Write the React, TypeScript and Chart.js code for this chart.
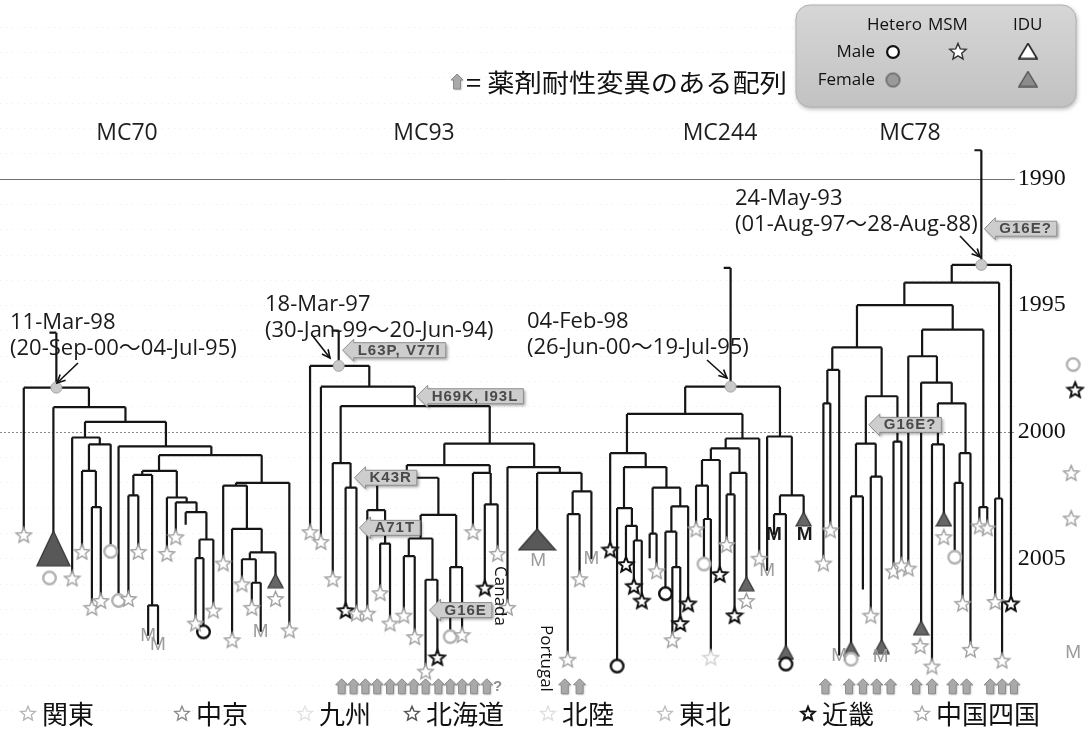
import React, { useEffect, useRef } from 'react';
import { Chart, registerables } from 'chart.js';

Chart.register(...registerables);

// ---------------- data ----------------
// tree node: [x position, year, parent index, marker code]
// marker codes: s gray star, l light star, k black star, o black circle, g gray circle,
// t dark triangle, T / W large collapsed triangles, M gray "M", N black "M"
const yearTicks = [1990, 1995, 2000, 2005];
const yearMin = 1983.22;
const yearMax = 2011.59;
const solidGridYear = 1990;
const dottedGridYear = 2000;

const cladeNames = ['MC70', 'MC93', 'MC244', 'MC78'];
const nodeDates = ['11-Mar-98', '18-Mar-97', '04-Feb-98', '24-May-93'];
const nodeRanges = ['(20-Sep-00～04-Jul-95)', '(30-Jan-99～20-Jun-94)', '(26-Jun-00～19-Jul-95)', '(01-Aug-97～28-Aug-88)'];

const mc70Tree = [
  [50, 1996.09, -1, ''], [50, 1998.26, 0, ''], [17, 2004.07, 1, 's'], [83, 1999.03, 1, ''],
  [47, 2004.61, 3, 'T'], [120, 1999.61, 3, ''], [79, 2000.23, 5, ''], [66, 2005.78, 6, 's'],
  [94, 2000.50, 6, ''], [83, 2001.55, 8, ''], [76, 2004.73, 9, 's'], [90, 2002.98, 9, ''],
  [86, 2006.94, 11, 's'], [95, 2006.67, 11, 's'], [105, 2004.73, 8, 'g'], [161, 2000.58, 5, ''],
  [113, 2006.67, 15, 'g'], [207, 2000.93, 15, ''], [154, 2001.55, 17, ''], [137, 2001.71, 18, ''],
  [128, 2002.52, 19, ''], [123, 2006.59, 20, 's'], [133, 2004.73, 20, 's'], [147, 2006.86, 19, ''],
  [143, 2008.06, 23, 'M'], [153, 2008.41, 23, 'M'], [172, 2002.60, 18, ''], [162, 2004.81, 26, 's'],
  [182, 2002.79, 26, ''], [171, 2004.15, 28, 's'], [192, 2003.18, 28, ''], [181, 2003.68, 30, ''],
  [202, 2004.26, 30, ''], [195, 2005.00, 32, ''], [191, 2007.56, 33, 's'], [199, 2007.91, 33, 'o'],
  [209, 2007.05, 32, 's'], [258, 2002.02, 17, ''], [232, 2002.13, 37, ''], [219, 2005.19, 38, 's'],
  [243, 2003.84, 38, ''], [228, 2008.22, 40, 's'], [258, 2004.77, 40, ''], [246, 2005.04, 42, ''],
  [238, 2006.01, 43, 's'], [252, 2005.97, 43, ''], [248, 2006.94, 45, 's'], [257, 2007.91, 45, 'M'],
  [272, 2005.89, 42, 't'], [286, 2007.83, 37, 's'],
];

const mc93Tree = [
  [336, 1996.01, -1, ''], [336, 1997.40, 0, ''], [307, 2003.95, 1, 's'], [367, 1998.22, 1, ''],
  [318, 2004.34, 3, 's'], [413, 1998.99, 3, ''], [338, 2001.24, 5, ''], [330, 2005.81, 6, 's'],
  [348, 2002.21, 6, ''], [343, 2007.05, 8, 'k'], [354, 2007.17, 8, 's'], [489, 2000.47, 5, ''],
  [443, 2001.32, 11, ''], [405, 2001.82, 12, ''], [375, 2003.10, 13, ''], [365, 2007.17, 14, 's'],
  [383, 2004.42, 14, ''], [378, 2006.36, 16, 's'], [388, 2007.56, 16, 's'], [437, 2003.29, 13, ''],
  [419, 2004.22, 19, ''], [407, 2004.92, 20, ''], [402, 2007.25, 21, 's'], [413, 2008.10, 21, 's'],
  [431, 2005.85, 20, ''], [424, 2009.46, 24, 's'], [436, 2008.91, 24, 'k'], [455, 2005.35, 19, ''],
  [449, 2008.10, 27, 'g'], [461, 2008.02, 27, 's'], [489, 2001.63, 12, ''], [472, 2003.95, 30, 's'],
  [490, 2002.87, 30, ''], [484, 2006.16, 32, 'k'], [497, 2004.81, 32, 's'], [534, 2001.40, 11, ''],
  [507, 2006.94, 35, 's'], [560, 2001.63, 35, ''], [537, 2004.26, 37, 'W'], [582, 2002.36, 37, ''],
  [573, 2003.26, 39, ''], [568, 2008.99, 40, 's'], [580, 2005.81, 40, 's'], [592, 2005.04, 39, 'M'],
];

const mc244Tree = [
  [733, 1993.53, -1, ''], [733, 1998.22, 0, ''], [687, 1999.30, 1, ''], [628, 2000.85, 2, ''],
  [611, 2004.65, 3, 'k'], [647, 2001.40, 3, ''], [625, 2003.02, 5, ''], [618, 2009.26, 6, 'o'],
  [633, 2003.72, 6, ''], [627, 2005.23, 8, 'k'], [638, 2004.30, 8, ''], [635, 2006.09, 10, 'k'],
  [643, 2006.67, 10, 'k'], [668, 2002.21, 5, ''], [654, 2004.03, 13, ''], [651, 2005.00, 14, ''],
  [658, 2005.50, 14, 's'], [682, 2002.95, 13, ''], [673, 2003.95, 17, ''], [667, 2006.40, 18, 'o'],
  [678, 2005.35, 18, ''], [674, 2008.22, 20, 's'], [682, 2007.56, 20, 'k'], [690, 2006.78, 17, 'k'],
  [745, 2000.27, 2, ''], [728, 2000.66, 24, ''], [713, 2001.12, 25, ''], [704, 2002.13, 26, ''],
  [698, 2003.84, 27, 's'], [710, 2003.45, 27, ''], [706, 2005.23, 29, 'g'], [713, 2008.91, 29, 'l'],
  [722, 2005.62, 26, 'k'], [742, 2001.63, 25, ''], [733, 2002.48, 33, ''], [729, 2004.46, 34, 's'],
  [737, 2007.25, 34, 'k'], [749, 2006.01, 33, 't'], [762, 2005.00, 24, 's'], [783, 2000.19, 1, ''],
  [770, 2005.50, 39, 'M'], [795, 2002.52, 39, ''], [783, 2003.26, 41, ''], [777, 2004.07, 42, 'N'],
  [789, 2008.72, 42, 't'], [807, 2003.45, 41, 't'],
];

const mc78Tree = [
  [987, 1988.88, -1, ''], [987, 1993.41, 0, ''], [1017, 2006.78, 1, 'k'], [957, 1994.11, 1, ''],
  [1005, 2002.64, 3, ''], [1001, 2006.71, 4, 's'], [1008, 2009.03, 4, 's'], [909, 1995.00, 3, ''],
  [958, 1995.97, 7, ''], [989, 2002.98, 8, ''], [985, 2003.72, 9, 's'], [993, 2003.80, 9, 's'],
  [927, 1997.02, 8, ''], [913, 2005.39, 12, 's'], [942, 1998.06, 12, ''], [926, 2007.75, 14, 't'],
  [957, 1998.88, 14, ''], [943, 2000.50, 16, ''], [937, 2009.26, 17, 's'], [949, 2003.45, 17, 't'],
  [971, 2000.85, 16, ''], [965, 2002.02, 20, ''], [960, 2004.96, 21, 'g'], [968, 2006.78, 21, 's'],
  [976, 2008.60, 20, 's'], [861, 1996.67, 7, ''], [836, 1997.56, 25, ''], [831, 1998.88, 26, ''],
  [827, 2005.19, 27, 's'], [834, 2003.88, 27, 's'], [843, 2008.84, 26, 'M'], [886, 1998.60, 25, ''],
  [870, 2000.47, 31, ''], [860, 2002.56, 32, ''], [855, 2008.57, 33, 't'], [867, 2006.24, 33, ''],
  [880, 2001.78, 32, ''], [875, 2007.25, 36, 's'], [886, 2008.49, 36, 't'], [902, 2000.39, 31, ''],
  [898, 2005.50, 39, 's'], [906, 2005.27, 39, 's'],
];

// additional symbols stacked under tips, and the partly visible legend column at the right edge
const extraMarks = [
  [43, 2005.78, 'g'], [272, 2006.59, 's'], [538, 2005.12, 'M'], [749, 2006.67, 's'],
  [789, 2009.18, 'o'], [808, 2004.07, 'N'], [925, 2008.45, 's'], [949, 2004.15, 's'],
  [855, 2008.99, 'g'], [885, 2008.88, 'M'],
  [1080, 1997.35, 'g'], [1082, 1998.33, 'k'], [1078, 2001.62, 's'], [1078, 2003.41, 's'], [1080, 2008.72, 'M'],
];

const mutationLabels = ['L63P, V77I', 'H69K, I93L', 'K43R', 'A71T', 'G16E', 'G16E?', 'G16E?'];
const mutationX = [340, 415, 352, 357, 428, 990, 873];
const mutationYear = [1996.78, 1998.60, 2001.82, 2003.80, 2007.05, 1991.98, 1999.73];

const drugArrowX = [339, 351, 363, 375, 388, 400, 412, 424, 437, 449, 461, 473, 486,
  565, 580, 829, 853, 867, 881, 895, 921, 937, 958, 972, 996, 1008, 1020];
const drugUnknownX = [497];
const drugArrowYear = 2010.08;

const countryLabels = ['Canada', 'Portugal'];
const countryX = [499, 546];
const countryYear = [2005.31, 2007.64];

const regionNames = ['関東', '中京', '九州', '北海道', '北陸', '東北', '近畿', '中国四国'];
const riskGroups = ['Hetero', 'MSM', 'IDU'];
const sexGroups = ['Male', 'Female'];
const drugNote = '= 薬剤耐性変異のある配列';

// ---------------- styles / layout ----------------
const W = 1092;
const H = 732;
const SANS = '"Open Sans", "Noto Sans CJK JP", sans-serif';
const CJK = '"Noto Sans CJK JP", "Noto Sans", sans-serif';
const SERIF = '"Liberation Serif", "DejaVu Serif", serif';
const titlePos = { x: [127, 424, 720, 910], y: 133 };
const datePos = [[10, 323], [265, 305], [527, 322], [735, 199]];
const dateArrows = [[78, 363, 57, 383], [312, 335, 330, 358], [707, 360, 727, 378], [960, 236, 980, 257]];
const regionStarX = [28, 182, 305, 412, 548, 665, 808, 922];
const regionStarStyle = [
  ['#b5b5b5', 1.3], ['#8a8a8a', 1.3], ['#e2e2e2', 1.3], ['#555', 1.4],
  ['#dedede', 1.3], ['#bdbdbd', 1.3], ['#111', 2], ['#a8a8a8', 1.3],
];

let icons = null;

function starCanvas(size, stroke, fill, lw) {
  const c = document.createElement('canvas');
  c.width = size; c.height = size;
  const ctx = c.getContext('2d');
  const cx = size / 2, cy = size / 2 + size * 0.05, R = size / 2 - lw, r = R * 0.45;
  ctx.beginPath();
  for (let i = 0; i < 10; i++) {
    const rad = i % 2 === 0 ? R : r;
    const a = -Math.PI / 2 + (i * Math.PI) / 5;
    ctx.lineTo(cx + rad * Math.cos(a), cy + rad * Math.sin(a));
  }
  ctx.closePath();
  ctx.fillStyle = fill; ctx.fill();
  ctx.lineWidth = lw; ctx.strokeStyle = stroke; ctx.lineJoin = 'miter'; ctx.stroke();
  return c;
}
function triCanvas(w, h, stroke, fill, lw) {
  const c = document.createElement('canvas');
  c.width = w + 2; c.height = h + 2;
  const ctx = c.getContext('2d');
  ctx.beginPath();
  ctx.moveTo(1 + w / 2, 1); ctx.lineTo(1 + w, 1 + h); ctx.lineTo(1, 1 + h); ctx.closePath();
  ctx.fillStyle = fill; ctx.fill();
  ctx.lineWidth = lw; ctx.strokeStyle = stroke; ctx.stroke();
  return c;
}
function circleCanvas(d, stroke, fill, lw) {
  const c = document.createElement('canvas');
  c.width = d + 2; c.height = d + 2;
  const ctx = c.getContext('2d');
  ctx.beginPath(); ctx.arc(d / 2 + 1, d / 2 + 1, d / 2 - lw / 2, 0, Math.PI * 2);
  ctx.fillStyle = fill; ctx.fill();
  ctx.lineWidth = lw; ctx.strokeStyle = stroke; ctx.stroke();
  return c;
}

function buildSegments(tree) {
  const pts = [];
  const gap = { x: null, y: null };
  tree.forEach((n, i) => {
    const [x, yr, p] = n;
    if (p >= 0) {
      pts.push({ x, y: tree[p][1] }, { x, y: yr }, gap);
    } else {
      pts.push({ x: x - 7, y: yr }, { x, y: yr }, gap);
    }
    const kids = tree.filter((c) => c[2] === i);
    if (kids.length > 1) {
      const xs = kids.map((k) => k[0]);
      pts.push({ x: Math.min(...xs), y: yr }, { x: Math.max(...xs), y: yr }, gap);
    }
  });
  return pts;
}

function drawTag(ctx, tipX, cy, text) {
  ctx.save();
  ctx.font = `bold 15px "Liberation Sans", Arial, sans-serif`;
  ctx.letterSpacing = '1px';
  const tw = ctx.measureText(text).width;
  const head = 11, hh = 11, bh = 7.5;
  const x1 = tipX + head, x2 = x1 + tw + 9;
  const path = () => {
    ctx.beginPath();
    ctx.moveTo(tipX, cy); ctx.lineTo(x1, cy - hh); ctx.lineTo(x1, cy - bh); ctx.lineTo(x2, cy - bh);
    ctx.lineTo(x2, cy + bh); ctx.lineTo(x1, cy + bh); ctx.lineTo(x1, cy + hh); ctx.closePath();
  };
  ctx.shadowColor = 'rgba(0,0,0,0.35)'; ctx.shadowBlur = 3; ctx.shadowOffsetX = 2; ctx.shadowOffsetY = 2;
  path(); ctx.fillStyle = '#cdcdcd'; ctx.fill();
  ctx.shadowColor = 'transparent';
  ctx.strokeStyle = '#8e8e8e'; ctx.lineWidth = 1; ctx.stroke();
  ctx.fillStyle = '#4a4a4a'; ctx.textBaseline = 'middle'; ctx.textAlign = 'left';
  ctx.fillText(text, x1 + 4, cy + 0.5);
  ctx.restore();
}

function drawUpArrow(ctx, x, cy) {
  ctx.save();
  const top = cy - 8, bot = cy + 7;
  ctx.beginPath();
  ctx.moveTo(x, top); ctx.lineTo(x + 6, top + 6); ctx.lineTo(x + 3.5, top + 6); ctx.lineTo(x + 3.5, bot);
  ctx.lineTo(x - 3.5, bot); ctx.lineTo(x - 3.5, top + 6); ctx.lineTo(x - 6, top + 6); ctx.closePath();
  ctx.shadowColor = 'rgba(0,0,0,0.25)'; ctx.shadowBlur = 2; ctx.shadowOffsetX = 1; ctx.shadowOffsetY = 1;
  ctx.fillStyle = '#a9a9a9'; ctx.fill();
  ctx.shadowColor = 'transparent';
  ctx.strokeStyle = '#8a8a8a'; ctx.lineWidth = 1; ctx.stroke();
  ctx.restore();
}

function drawArrowLine(ctx, x1, y1, x2, y2) {
  ctx.save();
  ctx.strokeStyle = '#111'; ctx.lineWidth = 1.6;
  ctx.beginPath(); ctx.moveTo(x1, y1); ctx.lineTo(x2, y2); ctx.stroke();
  const a = Math.atan2(y2 - y1, x2 - x1);
  const L = 9;
  ctx.beginPath();
  ctx.moveTo(x2 - L * Math.cos(a - 0.45), y2 - L * Math.sin(a - 0.45));
  ctx.lineTo(x2, y2);
  ctx.lineTo(x2 - L * Math.cos(a + 0.45), y2 - L * Math.sin(a + 0.45));
  ctx.stroke();
  ctx.restore();
}

const trees = [mc70Tree, mc93Tree, mc244Tree, mc78Tree];

const decorPlugin = {
  id: 'decor',
  beforeDatasetsDraw(chart) {
    const ctx = chart.ctx;
    const ys = chart.scales.y;
    const xs = chart.scales.x;
    const right = xs.getPixelForValue(1021);
    ctx.save();
    for (let yr = Math.ceil(yearMin); yr <= Math.floor(yearMax); yr++) {
      if (yr === solidGridYear || yr === dottedGridYear) continue;
      const y = Math.round(ys.getPixelForValue(yr)) + 0.5;
      ctx.strokeStyle = '#ececec'; ctx.lineWidth = 1; ctx.setLineDash([1, 5]);
      ctx.beginPath(); ctx.moveTo(0, y); ctx.lineTo(right, y); ctx.stroke();
    }
    let y = Math.round(ys.getPixelForValue(solidGridYear)) + 0.5;
    ctx.setLineDash([]); ctx.strokeStyle = '#707070'; ctx.lineWidth = 1;
    ctx.beginPath(); ctx.moveTo(0, y); ctx.lineTo(right, y); ctx.stroke();
    y = Math.round(ys.getPixelForValue(dottedGridYear)) + 0.5;
    ctx.setLineDash([2, 2]); ctx.strokeStyle = '#8a8a8a';
    ctx.beginPath(); ctx.moveTo(0, y); ctx.lineTo(right, y); ctx.stroke();
    ctx.setLineDash([]);
    ctx.fillStyle = '#111'; ctx.font = `24px ${SERIF}`; ctx.textBaseline = 'middle'; ctx.textAlign = 'left';
    yearTicks.forEach((t) => ctx.fillText(String(t), xs.getPixelForValue(1024), ys.getPixelForValue(t)));
    ctx.restore();
  },
  afterDatasetsDraw(chart) {
    if (!icons) return;
    const ctx = chart.ctx;
    const xs = chart.scales.x;
    const ys = chart.scales.y;
    const X = (v) => xs.getPixelForValue(v);
    const Y = (v) => ys.getPixelForValue(v);
    ctx.save();

    const mPts = [];
    trees.forEach((t) => t.forEach((n) => { if (n[3] === 'M' || n[3] === 'N') mPts.push([n[0], n[1], n[3]]); }));
    extraMarks.forEach((m) => { if (m[2] === 'M' || m[2] === 'N') mPts.push(m); });
    ctx.textAlign = 'center'; ctx.textBaseline = 'middle';
    mPts.forEach(([x, yr, c]) => {
      ctx.font = c === 'N' ? `bold 19px "Liberation Sans", Arial, sans-serif` : `19px "Liberation Sans", Arial, sans-serif`;
      ctx.fillStyle = c === 'N' ? '#1a1a1a' : '#9c9c9c';
      ctx.fillText('M', X(x), Y(yr));
    });

    ctx.fillStyle = '#1e1e1e'; ctx.font = `23px ${SANS}`; ctx.textAlign = 'center'; ctx.textBaseline = 'middle';
    cladeNames.forEach((n, i) => ctx.fillText(n, titlePos.x[i], titlePos.y));

    ctx.textAlign = 'left'; ctx.font = `22px ${SANS}`; ctx.fillStyle = '#1a1a1a';
    nodeDates.forEach((d, i) => {
      ctx.fillText(d, datePos[i][0], datePos[i][1]);
      ctx.fillText(nodeRanges[i], datePos[i][0], datePos[i][1] + 26);
      const a = dateArrows[i];
      drawArrowLine(ctx, a[0], a[1], a[2], a[3]);
    });

    mutationLabels.forEach((m, i) => drawTag(ctx, X(mutationX[i]), Y(mutationYear[i]), m));

    drugArrowX.forEach((x) => drawUpArrow(ctx, X(x), Y(drugArrowYear)));
    ctx.font = `bold 15px "Liberation Sans", Arial, sans-serif`; ctx.fillStyle = '#8d8d8d'; ctx.textAlign = 'center';
    drugUnknownX.forEach((x) => ctx.fillText('?', X(x), Y(drugArrowYear)));

    ctx.fillStyle = '#111'; ctx.font = `17px ${SANS}`; ctx.textAlign = 'left'; ctx.textBaseline = 'middle';
    countryLabels.forEach((c, i) => {
      ctx.save();
      ctx.translate(X(countryX[i]), Y(countryYear[i]));
      ctx.rotate(Math.PI / 2);
      ctx.fillText(c, 0, 0);
      ctx.restore();
    });

    drawUpArrow(ctx, 457, 82);
    ctx.fillStyle = '#111'; ctx.font = `25px ${CJK}`; ctx.textAlign = 'left'; ctx.textBaseline = 'middle';
    const nw = ctx.measureText(drugNote).width;
    ctx.save();
    ctx.translate(466, 82);
    ctx.scale(321 / nw, 1);
    ctx.fillText(drugNote, 0, 0);
    ctx.restore();

    ctx.save();
    ctx.shadowColor = 'rgba(0,0,0,0.3)'; ctx.shadowBlur = 4; ctx.shadowOffsetX = 1; ctx.shadowOffsetY = 2;
    const g = ctx.createLinearGradient(0, 5, 0, 107);
    g.addColorStop(0, '#d6d6d6'); g.addColorStop(1, '#c2c2c2');
    ctx.fillStyle = g;
    ctx.beginPath(); ctx.roundRect(796, 5, 280, 102, 14); ctx.fill();
    ctx.restore();
    ctx.strokeStyle = '#b0b0b0'; ctx.lineWidth = 1;
    ctx.beginPath(); ctx.roundRect(796, 5, 280, 102, 14); ctx.stroke();
    ctx.fillStyle = '#111'; ctx.font = `17px ${SANS}`; ctx.textBaseline = 'middle';
    ctx.textAlign = 'left';
    const colX = [867, 928, 1013];
    riskGroups.forEach((r, i) => ctx.fillText(r, colX[i], 25));
    ctx.textAlign = 'right';
    const rowY = [52, 80];
    sexGroups.forEach((s, i) => ctx.fillText(s, 875, rowY[i]));
    const put = (img, x, y) => ctx.drawImage(img, x - img.width / 2, y - img.height / 2);
    put(icons.maleCircle, 893, 52);
    put(icons.legendStar, 958, 51);
    put(icons.maleTri, 1028, 51);
    put(icons.femCircle, 893, 80);
    put(icons.femTri, 1028, 79);

    ctx.textAlign = 'left'; ctx.font = `26px ${CJK}`; ctx.fillStyle = '#111';
    regionNames.forEach((r, i) => {
      put(icons.regionStars[i], regionStarX[i], 713);
      ctx.fillText(r, regionStarX[i] + 14, 714);
    });
    ctx.restore();
  },
};

export default function App() {
  const ref = useRef(null);
  useEffect(() => {
    document.body.style.margin = '0';
    const canvas = ref.current;
    icons = {
      maleCircle: circleCanvas(14, '#111', '#ffffff', 2.2),
      femCircle: circleCanvas(15, '#666', '#9a9a9a', 1.5),
      legendStar: starCanvas(20, '#333', '#ffffff', 1.4),
      maleTri: triCanvas(18, 15, '#222', '#ffffff', 1.6),
      femTri: triCanvas(18, 15, '#555', '#8c8c8c', 1.4),
      regionStars: regionStarStyle.map(([c, lw]) => starCanvas(18, c, '#ffffff', lw)),
    };
    const styles = {
      s: starCanvas(19, '#a0a0a0', '#ffffff', 1.4),
      l: starCanvas(19, '#d0d0d0', '#ffffff', 1.4),
      k: starCanvas(20, '#111111', '#ffffff', 2),
      o: circleCanvas(15, '#111111', '#ffffff', 2.4),
      g: circleCanvas(15, '#b3b3b3', '#ffffff', 2.4),
      t: triCanvas(15, 14, '#333333', '#666666', 1.2),
      T: triCanvas(33, 35, '#333333', '#585858', 1.2),
      W: triCanvas(37, 21, '#333333', '#585858', 1.2),
    };
    const lineSets = trees.map((t) => ({
      type: 'line',
      data: buildSegments(t),
      borderColor: '#151515',
      borderWidth: 2.2,
      pointRadius: 0,
      spanGaps: false,
      order: 10,
    }));
    const markerSets = Object.keys(styles).map((code) => {
      const pts = [];
      trees.forEach((t) => t.forEach((n) => { if (n[3] === code) pts.push({ x: n[0], y: n[1] }); }));
      extraMarks.forEach((m) => { if (m[2] === code) pts.push({ x: m[0], y: m[1] }); });
      return {
        type: 'scatter',
        data: pts,
        pointStyle: styles[code],
        pointRadius: 6,
        order: 1,
      };
    });
    const rootSet = {
      type: 'scatter',
      data: trees.map((t) => ({ x: t[1][0], y: t[1][1] })),
      pointStyle: 'circle',
      pointRadius: 5.5,
      backgroundColor: '#c9c9c9',
      borderColor: '#a5a5a5',
      borderWidth: 1,
      order: 2,
    };
    const chart = new Chart(canvas, {
      type: 'scatter',
      data: { datasets: [...lineSets, rootSet, ...markerSets] },
      options: {
        responsive: false,
        animation: false,
        maintainAspectRatio: false,
        devicePixelRatio: 1,
        layout: { padding: 0 },
        plugins: { legend: { display: false }, tooltip: { enabled: false } },
        events: [],
        scales: {
          x: { type: 'linear', min: 0, max: W, display: false },
          y: { type: 'linear', min: yearMin, max: yearMax, reverse: true, display: false },
        },
      },
      plugins: [decorPlugin],
    });
    return () => chart.destroy();
  }, []);
  return (
    <div style={{ width: W, height: H, position: 'relative', background: '#fff' }}>
      <canvas ref={ref} width={W} height={H} style={{ display: 'block' }} />
    </div>
  );
}
